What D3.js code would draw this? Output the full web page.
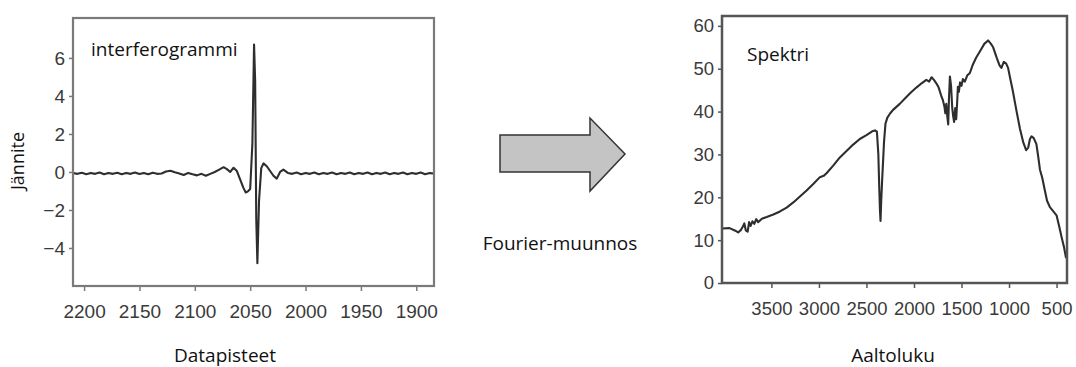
<!DOCTYPE html>
<html>
<head>
<meta charset="utf-8">
<script src="https://cdn.jsdelivr.net/npm/d3@7"></script>
<style>
  body { margin: 0; background: #fff; }
  svg { display: block; }
  .tick text { font-family: "Liberation Sans", Arial, sans-serif; fill: #3a3a3a; }
  .label { font-family: "Open Sans", "Noto Sans", sans-serif; fill: #111; }
</style>
</head>
<body>
<svg width="1076" height="367"></svg>
<script>
// interferogram: datapoint index, voltage
var interX = [2210, 2206, 2202, 2198, 2194, 2190, 2186, 2182, 2178, 2174, 2170,
  2166, 2162, 2158, 2154, 2150, 2146, 2142, 2138, 2134, 2130, 2126, 2122, 2118,
  2114, 2110, 2106, 2102, 2098, 2094, 2090, 2086, 2082, 2078, 2074, 2071, 2068,
  2065, 2062, 2059, 2056, 2054, 2052, 2050, 2048, 2046.5, 2045.5, 2044.5, 2043.5,
  2042, 2040, 2038, 2035, 2032, 2029, 2026, 2023, 2020, 2016, 2012, 2008, 2004,
  2000, 1996, 1992, 1988, 1984, 1980, 1976, 1972, 1968, 1964, 1960, 1956, 1952,
  1948, 1944, 1940, 1936, 1932, 1928, 1924, 1920, 1916, 1912, 1908, 1904, 1900,
  1896, 1892, 1888, 1884]
var interY = [-0.05, -0.1, -0.04, -0.12, -0.05, -0.1, -0.03, -0.12, -0.05, -0.1,
  -0.04, -0.12, -0.05, -0.1, -0.03, -0.11, -0.05, -0.12, -0.04, -0.1, -0.08,
  0.02, 0.06, -0.02, -0.08, -0.16, -0.05, -0.12, -0.18, -0.1, -0.2, -0.1, 0.0,
  0.12, 0.25, 0.15, 0.0, 0.22, 0.05, -0.4, -0.85, -1.08, -1.02, -0.9, 1.5, 6.7,
  4.8, -2.5, -4.8, -1.5, 0.2, 0.45, 0.3, 0.05, -0.2, -0.35, 0.0, 0.12, -0.05,
  -0.1, -0.03, -0.12, -0.05, -0.1, -0.03, -0.12, -0.05, -0.1, -0.03, -0.12,
  -0.05, -0.1, -0.03, -0.12, -0.05, -0.1, -0.03, -0.12, -0.05, -0.1, -0.03,
  -0.12, -0.05, -0.1, -0.03, -0.12, -0.05, -0.1, -0.03, -0.12, -0.06, -0.08]

var interXTicks = [2200, 2150, 2100, 2050, 2000, 1950, 1900]
var interYTicks = [-4, -2, 0, 2, 4, 6]

// spectrum: wavenumber, intensity
var specX = [4020, 3940, 3880, 3850, 3820, 3800, 3785, 3770, 3750, 3735, 3720,
  3700, 3680, 3660, 3640, 3600, 3550, 3480, 3410, 3340, 3270, 3200, 3130, 3060,
  2990, 2950, 2920, 2850, 2780, 2710, 2640, 2570, 2500, 2440, 2410, 2390, 2375,
  2365, 2358, 2352, 2345, 2335, 2325, 2315, 2300, 2280, 2250, 2220, 2150, 2080,
  2030, 1975, 1920, 1870, 1840, 1815, 1790, 1765, 1740, 1715, 1695, 1680, 1670,
  1660, 1650, 1640, 1632, 1622, 1610, 1598, 1588, 1578, 1566, 1556, 1546, 1538,
  1528, 1515, 1500, 1485, 1465, 1440, 1412, 1380, 1345, 1307, 1260, 1220, 1190,
  1167, 1130, 1100, 1080, 1055, 1030, 1010, 990, 960, 920, 885, 850, 820, 798,
  780, 763, 740, 712, 690, 675, 650, 623, 600, 570, 540, 500, 470, 447, 420, 400]
var specY = [12.7, 12.8, 12.2, 11.8, 12.4, 13.2, 13.9, 12.3, 12.0, 14.2, 13.3,
  14.4, 13.8, 14.9, 14.2, 15.0, 15.4, 16.0, 16.7, 17.6, 18.8, 20.2, 21.6, 23.1,
  24.7, 25.0, 25.6, 27.4, 29.3, 30.8, 32.3, 33.6, 34.5, 35.4, 35.6, 35.3, 30.0,
  22.0, 17.0, 14.5, 19.0, 24.0, 28.5, 33.0, 37.2, 38.6, 39.6, 40.4, 41.8, 43.4,
  44.5, 45.6, 46.6, 47.4, 47.0, 48.0, 47.4, 46.6, 45.6, 43.8, 42.6, 41.2, 39.6,
  41.8, 39.0, 37.0, 43.0, 48.2, 46.0, 41.0, 39.0, 37.6, 40.8, 38.2, 42.0, 45.8,
  44.6, 46.8, 46.0, 47.6, 47.0, 48.4, 49.0, 51.0, 52.6, 54.0, 55.8, 56.6, 55.8,
  55.0, 52.6, 50.8, 50.2, 51.6, 51.2, 50.2, 48.0, 44.8, 40.0, 36.0, 32.8, 31.0,
  31.6, 33.6, 34.2, 33.8, 32.4, 29.0, 26.5, 24.5, 21.6, 19.2, 17.7, 16.9, 15.8,
  13.0, 10.7, 8.2, 5.8]

var specXTicks = [3500, 3000, 2500, 2000, 1500, 1000, 500]
var specYTicks = [0, 10, 20, 30, 40, 50, 60]

var svg = d3.select("svg")

var drawPanel = function (cfg) {
  var g = svg.append("g")

  var xScale = d3.scaleLinear().domain(cfg.xDomain).range([cfg.left, cfg.right])
  var yScale = d3.scaleLinear().domain(cfg.yDomain).range([cfg.bottom, cfg.top])

  var xAxis = d3.axisBottom(xScale)
    .tickValues(cfg.xTicks)
    .tickSize(5)
    .tickPadding(cfg.xPad)
    .tickFormat(d3.format("d"))
  var yAxis = d3.axisLeft(yScale)
    .tickValues(cfg.yTicks)
    .tickSize(4)
    .tickPadding(4)
    .tickFormat(d3.format("d"))

  var xg = g.append("g")
    .attr("transform", "translate(0," + cfg.bottom + ")")
    .call(xAxis)
  var yg = g.append("g")
    .attr("transform", "translate(" + cfg.left + ",0)")
    .call(yAxis)

  ;[xg, yg].forEach(function (a) {
    a.select(".domain").remove()
    a.selectAll(".tick line").attr("stroke", cfg.frameColor).attr("stroke-width", 1.5)
    a.selectAll(".tick text").style("font-size", cfg.tickFont + "px")
  })

  var line = d3.line()
    .x(function (d) { return xScale(d[0]) })
    .y(function (d) { return yScale(d[1]) })

  g.append("path")
    .datum(d3.zip(cfg.xs, cfg.ys))
    .attr("d", line)
    .attr("fill", "none")
    .attr("stroke", "#2e2e2e")
    .attr("stroke-width", 2.1)
    .attr("stroke-linejoin", "round")

  g.append("rect")
    .attr("x", cfg.left)
    .attr("y", cfg.top)
    .attr("width", cfg.right - cfg.left)
    .attr("height", cfg.bottom - cfg.top)
    .attr("fill", "none")
    .attr("stroke", cfg.frameColor)
    .attr("stroke-width", cfg.frameWidth)
}

drawPanel({
  xs: interX, ys: interY,
  xDomain: [2210, 1884], yDomain: [-6, 8.1],
  xTicks: interXTicks, yTicks: interYTicks,
  left: 73, right: 434, top: 18, bottom: 286,
  frameColor: "#7a7a7a", frameWidth: 2.2, tickFont: 19, xPad: 14
})

drawPanel({
  xs: specX, ys: specY,
  xDomain: [4020, 390], yDomain: [0, 62.3],
  xTicks: specXTicks, yTicks: specYTicks,
  left: 722, right: 1067, top: 16, bottom: 283,
  frameColor: "#555", frameWidth: 2.5, tickFont: 18.5, xPad: 14
})

// text labels
var labels = svg.append("g")
labels.append("text").classed("label", true)
  .text("interferogrammi").attr("x", 91).attr("y", 56).style("font-size", "19px")
labels.append("text").classed("label", true)
  .text("Datapisteet").attr("x", 225).attr("y", 362)
  .attr("text-anchor", "middle").style("font-size", "19px")
labels.append("text").classed("label", true)
  .text("Jännite")
  .attr("transform", "translate(24,161) rotate(-90)")
  .attr("text-anchor", "middle").style("font-size", "18px")
labels.append("text").classed("label", true)
  .text("Spektri").attr("x", 747).attr("y", 61).style("font-size", "19px")
labels.append("text").classed("label", true)
  .text("Aaltoluku").attr("x", 893).attr("y", 362)
  .attr("text-anchor", "middle").style("font-size", "19px")
labels.append("text").classed("label", true)
  .text("Fourier-muunnos").attr("x", 560).attr("y", 250)
  .attr("text-anchor", "middle").style("font-size", "19px")

// arrow
var arrowPts = [[500, 135], [590, 135], [590, 118], [625, 154], [590, 191], [590, 172], [500, 172]]
svg.append("path")
  .attr("d", d3.line()(arrowPts) + "Z")
  .attr("fill", "#c4c4c4")
  .attr("stroke", "#333")
  .attr("stroke-width", 1.5)
  .attr("stroke-linejoin", "miter")
</script>
</body>
</html>
